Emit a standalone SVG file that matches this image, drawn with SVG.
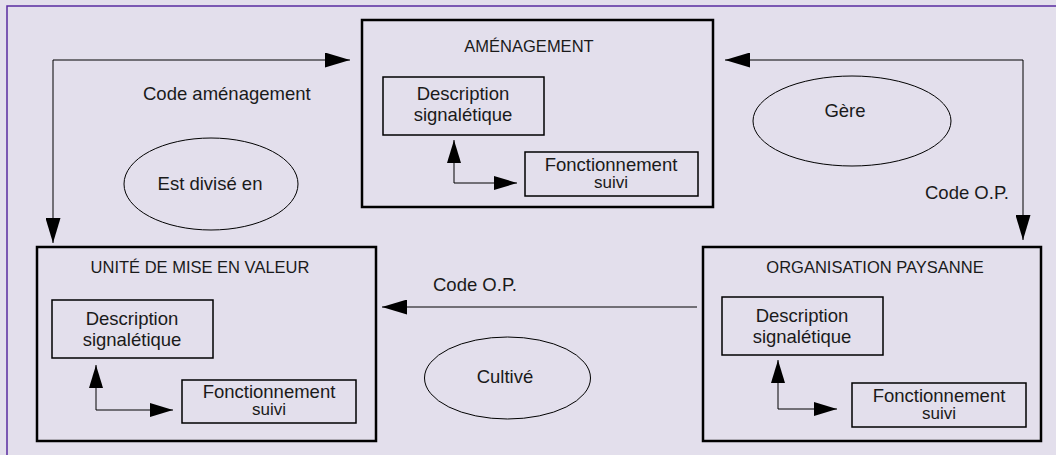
<svg xmlns="http://www.w3.org/2000/svg" width="1056" height="455" viewBox="0 0 1056 455">
<defs>
<marker id="big" markerWidth="25" markerHeight="15" refX="25" refY="7.5" orient="auto" markerUnits="userSpaceOnUse">
<path d="M0,0 L25,7.5 L0,15 Z" fill="#000"/>
</marker>
<marker id="small" markerWidth="23" markerHeight="14" refX="23" refY="7" orient="auto" markerUnits="userSpaceOnUse">
<path d="M0,0 L23,7 L0,14 Z" fill="#000"/>
</marker>
</defs>
<style>
text{font-family:"Liberation Sans",Arial,sans-serif;fill:#1a1a1a}
.t{font-size:16.5px}
.lbl{font-size:18.5px}
.sm{font-size:17px}
.box{fill:none;stroke:#000;stroke-width:2.5}
.sub{fill:none;stroke:#000;stroke-width:1.5}
.ell{fill:none;stroke:#000;stroke-width:1}
.con{fill:none;stroke:#000;stroke-width:1}
</style>
<rect x="0" y="0" width="1056" height="455" fill="#e3dfec"/>
<path d="M7,455 L7,6 L1056,6" fill="none" stroke="#5a2ca0" stroke-width="1.5"/>

<g id="amenagement">
<rect class="box" x="362" y="20" width="351" height="187"/>
<text class="t" x="529" y="52" text-anchor="middle">AMÉNAGEMENT</text>
<rect class="sub" x="383" y="77" width="161" height="58"/>
<text class="lbl" x="463" y="100" text-anchor="middle">Description</text>
<text class="lbl" x="463" y="121" text-anchor="middle">signalétique</text>
<rect class="sub" x="525" y="152" width="173" height="44"/>
<text class="lbl" x="611" y="171" text-anchor="middle">Fonctionnement</text>
<text class="sm" x="611" y="188" text-anchor="middle">suivi</text>
<path class="con" d="M454,183 L454,140" marker-end="url(#small)"/>
<path class="con" d="M454,183 L517,183" marker-end="url(#small)"/>
</g>

<g id="unite">
<rect class="box" x="37" y="247" width="339" height="194"/>
<text class="t" x="200" y="273" text-anchor="middle">UNITÉ DE MISE EN VALEUR</text>
<rect class="sub" x="52" y="300" width="161" height="58"/>
<text class="lbl" x="132" y="325" text-anchor="middle">Description</text>
<text class="lbl" x="132" y="346" text-anchor="middle">signalétique</text>
<rect class="sub" x="182" y="380" width="174" height="43"/>
<text class="lbl" x="269" y="398" text-anchor="middle">Fonctionnement</text>
<text class="sm" x="269" y="415" text-anchor="middle">suivi</text>
<path class="con" d="M96,410 L96,365" marker-end="url(#small)"/>
<path class="con" d="M96,410 L173,410" marker-end="url(#small)"/>
</g>

<g id="organisation">
<rect class="box" x="703" y="247" width="338" height="194"/>
<text class="t" x="875" y="273" text-anchor="middle">ORGANISATION PAYSANNE</text>
<rect class="sub" x="722" y="297" width="161" height="58"/>
<text class="lbl" x="802" y="322" text-anchor="middle">Description</text>
<text class="lbl" x="802" y="343" text-anchor="middle">signalétique</text>
<rect class="sub" x="852" y="383" width="174" height="44"/>
<text class="lbl" x="939" y="402" text-anchor="middle">Fonctionnement</text>
<text class="sm" x="939" y="419" text-anchor="middle">suivi</text>
<path class="con" d="M778,409 L778,360" marker-end="url(#small)"/>
<path class="con" d="M778,409 L837,409" marker-end="url(#small)"/>
</g>

<g id="rel-est-divise">
<ellipse class="ell" cx="211" cy="184" rx="87" ry="46"/>
<text class="lbl" x="210" y="190" text-anchor="middle">Est divisé en</text>
</g>
<g id="rel-gere">
<ellipse class="ell" cx="852" cy="121" rx="99" ry="45"/>
<text class="lbl" x="845" y="117" text-anchor="middle">Gère</text>
</g>
<g id="rel-cultive">
<ellipse class="ell" cx="507.5" cy="378" rx="83" ry="41"/>
<text class="lbl" x="505" y="383" text-anchor="middle">Cultivé</text>
</g>

<g id="connectors">
<path class="con" d="M53,60 L350,60" marker-end="url(#big)"/>
<path class="con" d="M53,60 L53,243" marker-end="url(#big)"/>
<path class="con" d="M1023,60 L725,60" marker-end="url(#big)"/>
<path class="con" d="M1023,60 L1023,240" marker-end="url(#big)"/>
<path class="con" d="M697,307 L382,307" marker-end="url(#big)"/>
<text class="lbl" x="143" y="100">Code aménagement</text>
<text class="lbl" x="925" y="199">Code O.P.</text>
<text class="lbl" x="433" y="291">Code O.P.</text>
</g>
</svg>
